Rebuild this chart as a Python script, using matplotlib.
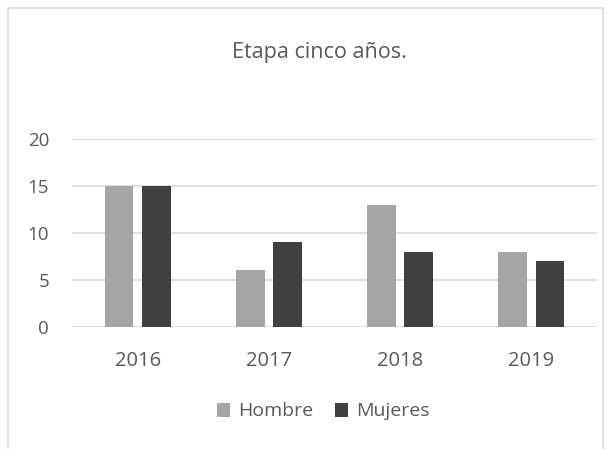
import matplotlib
matplotlib.use("Agg")
import matplotlib.pyplot as plt
import numpy as np
from matplotlib.patches import Rectangle

years = ["2016", "2017", "2018", "2019"]
hombre = [15, 6, 13, 8]
mujeres = [15, 9, 8, 7]
title = "Etapa cinco años."
yticks = [0, 5, 10, 15, 20]

plt.rcParams['font.family'] = ['Open Sans', 'DejaVu Sans']
txt = "#595959"

fig = plt.figure(figsize=(6.11, 4.49), dpi=100)
# chart border
fig.patches.append(Rectangle((8/611, -0.01), (603-8)/611, 1 - 8/449 + 0.01,
                             transform=fig.transFigure, fill=False,
                             edgecolor="#d9d9d9", linewidth=1.2))

ax = fig.add_axes([72/611, 1 - 326.7/449, 525/611, (326.7 - 139.3)/449])
x = np.arange(len(years))
w = 0.22
off = 0.142
ax.bar(x - off, hombre, w, color="#a5a5a5", label="Hombre", zorder=3)
ax.bar(x + off, mujeres, w, color="#404040", label="Mujeres", zorder=3)

ax.set_xlim(-0.5, len(years) - 0.5)
ax.set_ylim(0, 20)
ax.set_yticks(yticks)
ax.set_xticks(x)
ax.set_xticklabels(years)
ax.yaxis.grid(True, color="#d9d9d9", linewidth=1.2, zorder=0)
ax.set_axisbelow(True)
for s in ax.spines.values():
    s.set_visible(False)
ax.tick_params(axis="both", length=0, colors=txt)
ax.tick_params(axis="y", pad=16.5, labelsize=13.5)
ax.tick_params(axis="x", pad=17.5, labelsize=14.5)

fig.text(319/611, 1 - 57.7/449, title, ha="center", va="baseline", fontsize=15.5, color=txt)

leg = fig.legend(loc="center", bbox_to_anchor=(323/611, 1 - 411.5/449), ncol=2, frameon=False,
                 fontsize=14, labelcolor=txt, handlelength=0.7, handleheight=0.7,
                 handletextpad=0.4, columnspacing=1.1)

fig.savefig("out.png", dpi=100)
